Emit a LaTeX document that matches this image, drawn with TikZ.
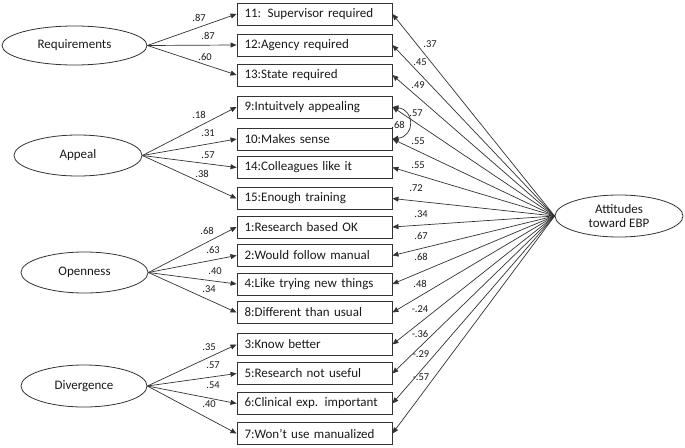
\documentclass[tikz,border=0pt]{standalone}
\usepackage{fontspec}
\setmainfont{Carlito}
\usetikzlibrary{shapes.geometric,arrows.meta}
\begin{document}
\begin{tikzpicture}[x=1pt,y=-1pt,
  every node/.style={font=\fontsize{13}{14.5}\selectfont, text=black!90},
  item/.style={draw=black!80, line width=0.9pt, minimum height=22pt, text width=140pt, inner xsep=7.5pt, inner ysep=0pt, align=left},
  lat/.style={draw=black!80, line width=0.8pt, ellipse, inner sep=0pt, align=center},
  coef/.style={font=\fontsize{10.5}{12}\selectfont, inner sep=0pt},
  conn/.style={draw=black!80, line width=0.7pt, -{Triangle[length=6pt,width=5pt]}},
  dconn/.style={draw=black!80, line width=0.7pt, {Triangle[length=6pt,width=5pt]}-{Triangle[length=6pt,width=5pt]}}
]
\useasboundingbox (0,0) rectangle (685,447);

% latent variables
\node[lat, minimum width=145, minimum height=39] (req) at (74.5,45.5) {Requirements};
\node[lat, minimum width=128, minimum height=41] (app) at (78,155.5) {Appeal};
\node[lat, minimum width=127, minimum height=41] (ope) at (84.5,272.5) {Openness};
\node[lat, minimum width=126, minimum height=42] (div) at (84,386) {Divergence};
\node[lat, minimum width=128, minimum height=42] (att) at (619,216) {Attitudes\\toward EBP};

% items
\node[item] (b11) at (314.5,14) {11: Supervisor required};
\node[item] (b12) at (314.5,45) {12:Agency required};
\node[item] (b13) at (314.5,75) {13:State required};
\node[item] (b9)  at (314.5,107) {9:Intuitvely appealing};
\node[item] (b10) at (314.5,139) {10:Makes sense};
\node[item] (b14) at (314.5,167.5) {14:Colleagues like it};
\node[item] (b15) at (314.5,198.5) {15:Enough training};
\node[item] (b1)  at (314.5,227) {1:Research based OK};
\node[item] (b2)  at (314.5,255.5) {2:Would follow manual};
\node[item] (b4)  at (314.5,284) {4:Like trying new things};
\node[item] (b8)  at (314.5,312.5) {8:Different than usual};
\node[item] (b3)  at (314.5,344.5) {3:Know better};
\node[item] (b5)  at (314.5,373.5) {5:Research not useful};
\node[item] (b6)  at (314.5,403.5) {6:Clinical exp. important};
\node[item] (b7)  at (314.5,433.5) {7:Won't use manualized};

% loadings from factors
\draw[conn] (req.east) -- (b11.west);
\draw[conn] (req.east) -- (b12.west);
\draw[conn] (req.east) -- (b13.west);
\draw[conn] (app.east) -- (b9.west);
\draw[conn] (app.east) -- (b10.west);
\draw[conn] (app.east) -- (b14.west);
\draw[conn] (app.east) -- (b15.west);
\draw[conn] (ope.east) -- (b1.west);
\draw[conn] (ope.east) -- (b2.west);
\draw[conn] (ope.east) -- (b4.west);
\draw[conn] (ope.east) -- (b8.west);
\draw[conn] (div.east) -- (b3.west);
\draw[conn] (div.east) -- (b5.west);
\draw[conn] (div.east) -- (b6.west);
\draw[conn] (div.east) -- (b7.west);

% paths from attitudes
\foreach \b in {b11,b12,b13,b9,b10,b14,b15,b1,b2,b4,b8,b3,b5,b6,b7}
  \draw[conn] (att.west) -- (\b.east);

% correlated residual
\draw[dconn] (b9.east) .. controls (415,110) and (415,136) .. (b10.east);
\node[coef] (c68) at (398,125) {.68};

% left coefficients
\node[coef] (l1) at (199,18) {.87};
\node[coef] (l2) at (208,36) {.87};
\node[coef] (l3) at (205,57) {.60};
\node[coef] (l4) at (199,115) {.18};
\node[coef] (l5) at (208,133) {.31};
\node[coef] (l6) at (208,155) {.57};
\node[coef] (l7) at (202,174) {.38};
\node[coef] (l8) at (207,231) {.68};
\node[coef] (l9) at (213,250) {.63};
\node[coef] (l10) at (215,271) {.40};
\node[coef] (l11) at (209,289) {.34};
\node[coef] (l12) at (209,347) {.35};
\node[coef] (l13) at (213,365) {.57};
\node[coef] (l14) at (213,385) {.54};
\node[coef] (l15) at (209,404) {.40};

% right coefficients
\node[coef] (r1) at (430,44) {.37};
\node[coef] (r2) at (420,62) {.45};
\node[coef] (r3) at (418,85) {.49};
\node[coef] (r4) at (416,113) {.57};
\node[coef] (r5) at (418,141) {.55};
\node[coef] (r6) at (418,165) {.55};
\node[coef] (r7) at (416,188) {.72};
\node[coef] (r8) at (421,214) {.34};
\node[coef] (r9) at (421,236) {.67};
\node[coef] (r10) at (421,257) {.68};
\node[coef] (r11) at (420,284) {.48};
\node[coef] (r12) at (420,309) {-.24};
\node[coef] (r13) at (420,334) {-.36};
\node[coef] (r14) at (421,354) {-.29};
\node[coef] (r15) at (421,377) {-.57};
\end{tikzpicture}
\end{document}
